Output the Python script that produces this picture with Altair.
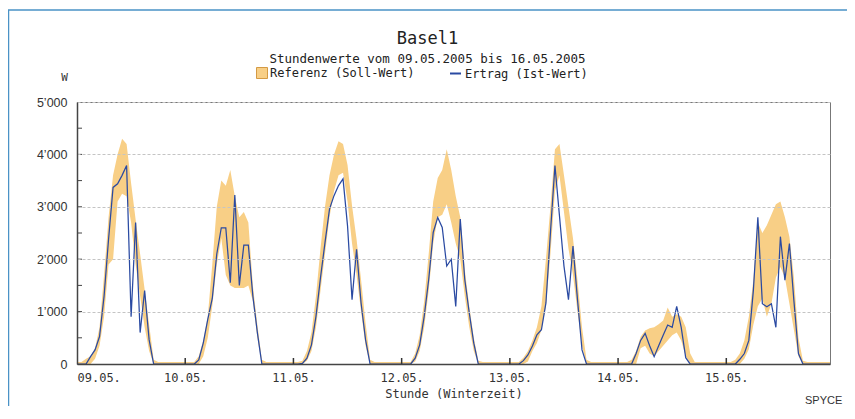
import json
import altair as alt
import pandas as pd

# ---------------- data ----------------
day_labels = ["09.05.", "10.05.", "11.05.", "12.05.", "13.05.", "14.05.", "15.05."]
x_label_hours = [0, 24, 48, 72, 96, 120, 144]
x_inner_ticks = [24, 48, 72, 96, 120, 144]
y_label_values = [0, 1000, 2000, 3000, 4000, 5000]
y_inner_ticks = [500, 1000, 1500, 2000, 2500, 3000, 3500, 4000, 4500]

# Ertrag (Ist-Wert), hourly, W
ertrag_d1 = [0, 0, 0, 140, 270, 525, 1290, 2380, 3370, 3440, 3600, 3790, 900, 2700, 600, 1400, 460, 0, 0, 0, 0, 0, 0, 0]
ertrag_d2 = [0, 0, 0, 77, 400, 850, 1250, 2100, 2600, 2600, 1550, 3225, 1500, 2270, 2270, 1300, 600, 0, 0, 0, 0, 0, 0, 0]
ertrag_d3 = [0, 0, 10, 110, 365, 910, 1645, 2317, 2957, 3213, 3405, 3533, 2637, 1229, 2190, 1165, 460, 0, 0, 0, 0, 0, 0, 0]
ertrag_d4 = [0, 0, 0, 110, 365, 910, 1613, 2510, 2797, 2605, 1870, 2000, 1100, 2765, 1613, 973, 397, 0, 0, 0, 0, 0, 0, 0]
ertrag_d5 = [0, 0, 0, 64, 173, 345, 557, 653, 1165, 2509, 3789, 2829, 1869, 1229, 2253, 1229, 269, 0, 0, 0, 0, 0, 0, 0]
ertrag_d6 = [0, 0, 0, 0, 200, 450, 585, 350, 140, 350, 550, 744, 700, 1100, 700, 120, 0, 0, 0, 0, 0, 0, 0, 0]
ertrag_d7 = [0, 0, 0, 90, 200, 450, 1400, 2800, 1150, 1093, 1150, 700, 2430, 1600, 2300, 1200, 200, 0, 0, 0, 0, 0, 0, 0]

# Referenz (Soll-Wert) band, upper bound
ref_hi_d1 = [40, 40, 100, 150, 300, 700, 1700, 2800, 3600, 4000, 4300, 4200, 3450, 2760, 2100, 1420, 750, 80, 40, 40, 40, 40, 40, 40]
ref_hi_d2 = [40, 40, 40, 150, 450, 900, 1900, 3000, 3500, 3400, 3700, 3200, 2800, 2900, 2700, 1500, 750, 80, 40, 40, 40, 40, 40, 40]
ref_hi_d3 = [40, 40, 60, 250, 600, 1300, 2200, 3000, 3600, 4000, 4250, 4200, 3800, 3020, 2380, 1610, 780, 80, 40, 40, 40, 40, 40, 40]
ref_hi_d4 = [40, 40, 40, 200, 550, 1200, 2100, 3100, 3550, 3700, 4100, 3700, 3200, 2800, 1800, 1100, 500, 60, 40, 40, 40, 40, 40, 40]
ref_hi_d5 = [40, 40, 40, 120, 250, 450, 700, 1100, 2000, 3000, 4100, 4200, 3600, 3000, 2400, 1600, 700, 80, 40, 40, 40, 40, 40, 40]
ref_hi_d6 = [40, 40, 40, 80, 250, 520, 640, 680, 700, 760, 830, 1080, 900, 950, 900, 700, 200, 40, 40, 40, 40, 40, 40, 40]
ref_hi_d7 = [40, 40, 80, 200, 450, 900, 1600, 2700, 2500, 2650, 2850, 3050, 3100, 2800, 2430, 1650, 500, 60, 40, 40, 40, 40, 40, 40]

# Referenz (Soll-Wert) band, lower bound
ref_lo_d1 = [0, 0, 0, 0, 100, 350, 900, 1900, 2000, 3100, 3250, 3200, 2700, 1900, 1300, 700, 250, 0, 0, 0, 0, 0, 0, 0]
ref_lo_d2 = [0, 0, 0, 0, 150, 500, 1100, 1900, 2400, 1700, 1500, 1450, 1450, 1450, 1500, 1200, 500, 0, 0, 0, 0, 0, 0, 0]
ref_lo_d3 = [0, 0, 0, 60, 250, 700, 1400, 2100, 2800, 3300, 3600, 3650, 3100, 2300, 1700, 1000, 350, 0, 0, 0, 0, 0, 0, 0]
ref_lo_d4 = [0, 0, 0, 50, 250, 700, 1400, 2300, 2800, 2850, 3050, 2700, 2300, 2000, 1300, 700, 250, 0, 0, 0, 0, 0, 0, 0]
ref_lo_d5 = [0, 0, 0, 0, 50, 250, 400, 650, 1100, 2100, 3300, 3600, 2900, 2200, 1700, 1000, 350, 0, 0, 0, 0, 0, 0, 0]
ref_lo_d6 = [0, 0, 0, 0, 0, 300, 350, 200, 150, 250, 350, 450, 550, 600, 450, 150, 0, 0, 0, 0, 0, 0, 0, 0]
ref_lo_d7 = [0, 0, 0, 0, 100, 280, 750, 1100, 1250, 900, 1150, 1650, 1850, 1650, 1150, 650, 150, 0, 0, 0, 0, 0, 0, 0]

ref_name = "Referenz (Soll-Wert)"
ist_name = "Ertrag (Ist-Wert)"
title_text = "Basel1"
subtitle_text = "Stundenwerte vom 09.05.2005 bis 16.05.2005"

# ---------------- table ----------------
ertrag = ertrag_d1 + ertrag_d2 + ertrag_d3 + ertrag_d4 + ertrag_d5 + ertrag_d6 + ertrag_d7
ref_hi = ref_hi_d1 + ref_hi_d2 + ref_hi_d3 + ref_hi_d4 + ref_hi_d5 + ref_hi_d6 + ref_hi_d7
ref_lo = ref_lo_d1 + ref_lo_d2 + ref_lo_d3 + ref_lo_d4 + ref_lo_d5 + ref_lo_d6 + ref_lo_d7
df = pd.DataFrame({
    "stunde": list(range(len(ertrag))),
    "lo": ref_lo,
    "hi": ref_hi,
    "ertrag": ertrag,
    "ref": ref_name,
    "ist": ist_name,
})

MONO = "DejaVu Sans Mono"
SANS = "Liberation Sans"
ORANGE = "#f8cf86"
BLUE = "#2a4aa2"

x_scale = alt.Scale(domain=[0, 167], nice=False, zero=False)
y_scale = alt.Scale(domain=[0, 5000], nice=False)

x_axis = alt.Axis(
    values=x_label_hours,
    labelExpr=json.dumps(day_labels) + "[round(datum.value / 24)]",
    ticks=False, grid=False, labelPadding=8,
    labelFont=MONO, labelFontSize=12, labelColor="#333",
    title="Stunde (Winterzeit)", titleFont=MONO, titleFontSize=12,
    titleFontWeight="normal", titleColor="#333", titlePadding=5,
    domainColor="#444", domainWidth=1.5, zindex=1,
)
y_axis = alt.Axis(
    values=y_label_values,
    labelExpr="datum.value == 0 ? '0' : replace(format(datum.value, ','), ',', '\u2019')",
    ticks=False, labelPadding=10,
    labelFont=SANS, labelFontSize=12.5, labelColor="#333",
    grid=True, gridColor="#c4c4c4", gridDash=[3, 2], gridWidth=1,
    domainColor="#444", domainWidth=1.5, zindex=1,
    title="W", titleAngle=0, titleX=-13, titleY=-25, titleAlign="center",
    titleBaseline="middle", titleFont=MONO, titleFontSize=11,
    titleFontWeight="normal", titleColor="#333",
)

frame = alt.Chart(pd.DataFrame({"a": [0]})).mark_rect(
    filled=False, stroke="#4a92c6", strokeWidth=1.5
).encode(
    x=alt.value(-68.5), x2=alt.value(820), y=alt.value(-92), y2=alt.value(340)
)

band = alt.Chart(df).mark_area(interpolate="linear").encode(
    x=alt.X("stunde:Q", scale=x_scale, axis=x_axis),
    y=alt.Y("lo:Q", scale=y_scale, axis=y_axis),
    y2="hi:Q",
    fill=alt.Fill(
        "ref:N",
        scale=alt.Scale(domain=[ref_name], range=[ORANGE]),
        legend=alt.Legend(
            orient="none", legendX=179, legendY=-35, direction="horizontal",
            title=None, symbolType="square", symbolSize=121,
            symbolStrokeColor="#d49a44", symbolStrokeWidth=1,
            labelFont=MONO, labelFontSize=12, labelColor="#222",
            labelOffset=2, padding=0,
        ),
    ),
)

line = alt.Chart(df).mark_line(strokeWidth=1.25).encode(
    x=alt.X("stunde:Q", scale=x_scale, axis=x_axis),
    y=alt.Y("ertrag:Q", scale=y_scale, axis=y_axis),
    stroke=alt.Stroke(
        "ist:N",
        scale=alt.Scale(domain=[ist_name], range=[BLUE]),
        legend=alt.Legend(
            orient="none", legendX=372, legendY=-35, direction="horizontal",
            title=None, symbolType="stroke", symbolSize=121,
            symbolStrokeWidth=2, labelFont=MONO, labelFontSize=12,
            labelColor="#222", labelOffset=3, padding=0,
        ),
    ),
)

y_ticks = alt.Chart(pd.DataFrame({"v": y_inner_ticks})).mark_rule(
    color="#444", strokeWidth=1
).encode(
    y=alt.Y("v:Q", scale=y_scale, axis=y_axis), x=alt.value(0), x2=alt.value(5)
)

x_ticks = alt.Chart(pd.DataFrame({"h": x_inner_ticks})).mark_rule(
    color="#333", strokeWidth=1.5
).encode(
    x=alt.X("h:Q", scale=x_scale, axis=x_axis), y=alt.value(262), y2=alt.value(256)
)

spyce = alt.Chart(pd.DataFrame({"t": ["SPYCE"]})).mark_text(
    align="left", baseline="middle", font=SANS, fontSize=11, color="#333"
).encode(text="t:N", x=alt.value(728), y=alt.value(299))

chart = alt.layer(frame, band, line, y_ticks, x_ticks, spyce).properties(
    width=753,
    height=262,
    autosize=alt.AutoSizeParams(type="none"),
    padding={"left": 69, "top": 94, "right": 17, "bottom": 42},
    background="white",
    title=alt.TitleParams(
        text=title_text, subtitle=subtitle_text,
        font=MONO, fontSize=17, fontWeight="normal", color="#222",
        subtitleFont=MONO, subtitleFontSize=12.5, subtitleColor="#222",
        anchor="middle", dx=-26, offset=-57, subtitlePadding=5,
    ),
).configure_view(stroke="#777", strokeWidth=1)

chart.save("out.html", embed_options={"renderer": "svg", "actions": False})
